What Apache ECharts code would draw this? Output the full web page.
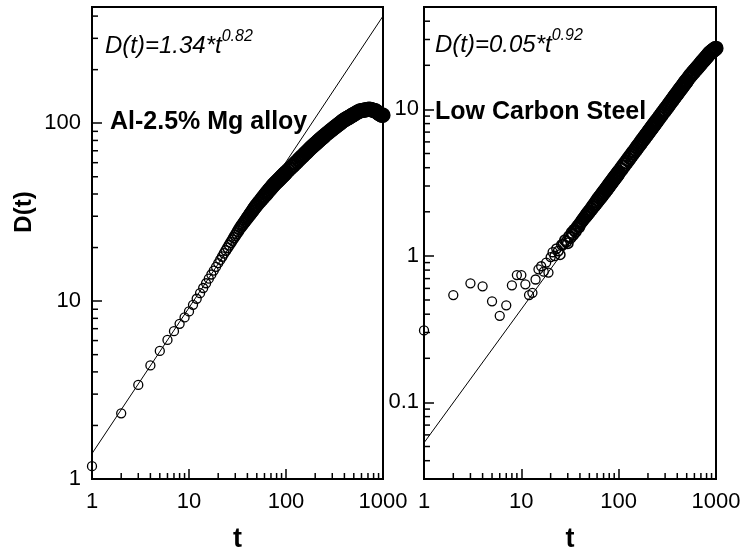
<!DOCTYPE html>
<html><head><meta charset="utf-8">
<script src="https://cdn.jsdelivr.net/npm/echarts@6/dist/echarts.min.js"></script>
<style>html,body{margin:0;padding:0;background:#fff}#c{width:745px;height:558px}</style>
</head><body><div id="c"></div>
<script>
// shared time values (t)
const tValues = [
  1,2,3,4,5,6,7,8,9,10,11,12,13,14,15,16,17,18,19,20,21,22,23,24,25,26,27,28,29,30,
  31,32,33,34,35,36,37,38,39,40,41,42,43,44,45,46,47,48,49,50,
  52,54,56,58,60,62,64,66,68,70,72,74,76,78,80,82,84,86,88,90,92,94,96,98,100,
  105,110,115,120,125,130,135,140,145,150,155,160,165,170,175,180,185,190,195,200,
  205,210,215,220,225,230,235,240,245,250,
  260,270,280,290,300,310,320,330,340,350,360,370,380,390,400,410,420,430,440,450,460,470,480,490,500,
  520,540,560,580,600,620,640,660,680,700,720,740,760,780,800,820,840,860,880,900,920,940,960,980,1000
];
// Al-2.5% Mg alloy D(t)
const alloyD = [
  1.18,2.34,3.38,4.35,5.25,6.05,6.78,7.45,8.10,8.75,
  9.53,10.31,11.08,11.85,12.60,13.36,14.11,14.85,15.59,16.33,
  17.06,17.79,18.55,19.25,19.94,20.64,21.33,22.02,22.70,23.38,
  24.05,24.72,25.39,26.01,26.59,27.15,27.71,28.28,28.83,29.39,
  29.93,30.48,31.02,31.56,32.09,32.63,33.16,33.68,34.21,34.72,
  35.62,36.50,37.37,38.24,39.10,39.94,40.77,41.59,42.41,43.20,
  44.00,44.80,45.46,46.12,46.77,47.41,48.05,48.67,49.29,49.90,
  50.51,51.11,51.71,52.30,52.88,
  54.33,55.64,56.99,58.31,59.60,60.88,62.14,63.37,64.59,65.79,
  66.97,68.12,69.26,70.37,71.61,72.61,73.60,74.56,75.51,76.46,
  77.39,78.31,79.22,80.12,81.01,81.87,82.74,83.60,84.45,85.27,
  86.90,88.33,89.71,91.06,92.42,93.72,95.00,96.28,97.50,98.74,
  99.93,101.1,102.3,103.5,104.3,105.2,106.0,106.8,107.6,108.3,
  109.1,109.9,110.6,111.4,112.1,
  113.5,114.9,116.2,117.2,117.6,118.0,118.4,118.8,119.2,119.5,
  119.9,119.6,119.1,118.6,118.1,117.6,117.2,116.2,114.8,114.0,
  113.0,112.0,111.3,110.8,111.0
];
// Low carbon steel D(t)
const steelD = [
  0.31,0.54,0.65,0.62,0.49,0.39,0.46,0.63,0.74,0.74,
  0.64,0.54,0.56,0.69,0.81,0.85,0.78,0.90,0.77,0.98,
  1.06,1.00,1.12,1.08,1.02,1.19,1.20,1.28,1.25,1.22,
  1.36,1.33,1.44,1.40,1.50,1.47,1.55,1.60,1.58,1.66,
  1.69,1.73,1.77,1.80,1.84,1.87,1.91,1.94,1.98,2.01,
  2.08,2.15,2.22,2.29,2.36,2.43,2.50,2.56,2.63,2.70,
  2.77,2.83,2.90,2.97,3.04,3.11,3.18,3.24,3.31,3.38,
  3.45,3.51,3.58,3.65,3.72,
  3.88,4.05,4.21,4.37,4.54,4.70,4.86,5.02,5.18,5.34,
  5.50,5.66,5.82,5.98,6.14,6.29,6.45,6.61,6.76,6.92,
  7.07,7.23,7.38,7.54,7.69,7.84,8.00,8.15,8.30,8.45,
  8.75,9.06,9.36,9.65,9.95,10.25,10.54,10.84,11.13,11.43,
  11.72,12.02,12.30,12.59,12.88,13.17,13.46,13.74,14.03,14.31,
  14.60,14.89,15.17,15.45,15.74,
  16.30,16.86,17.34,17.82,18.29,18.76,19.23,19.70,20.16,20.62,
  21.07,21.52,21.97,22.42,22.87,23.30,23.74,24.17,24.53,24.81,
  25.08,25.35,25.62,25.88,26.15
];
// fitted power-law lines (end points)
const fitT = [1, 1000];
const alloyFitD = [1.39, 400];
const steelFitD = [0.053, 28.8];
// axis ranges
const xRange = [1, 1000];
const alloyYRange = [1, 450];
const steelYRange = [0.03, 50];
// minor tick values
const xMinor = [2,3,4,5,6,7,8,9,20,30,40,50,60,70,80,90,200,300,400,500,600,700,800,900];
const alloyYMinor = [2,3,4,5,6,7,8,9,20,30,40,50,60,70,80,90,200,300,400];
const steelYMinor = [0.04,0.05,0.06,0.07,0.08,0.09,0.2,0.3,0.4,0.5,0.6,0.7,0.8,0.9,2,3,4,5,6,7,8,9,20,30,40];
// texts
const alloyEq = ['D(t)=1.34*t', '0.82'];
const steelEq = ['D(t)=0.05*t', '0.92'];
const alloyName = 'Al-2.5% Mg alloy';
const steelName = 'Low Carbon Steel';
const yName = 'D(t)';
const xName = 't';

const FONT = '"Liberation Sans", Arial, Helvetica, sans-serif';
const chart = echarts.init(document.getElementById('c'), null, {renderer: 'canvas'});

function powLabel(v) {
  const l = Math.log10(v);
  if (Math.abs(l - Math.round(l)) > 1e-6) return '';
  return String(Number(v.toPrecision(4)));
}
function xAxisDef(gi) {
  return {
    type: 'log', logBase: 10, gridIndex: gi, min: xRange[0], max: xRange[1],
    name: xName, nameLocation: 'middle', nameGap: 47,
    nameTextStyle: {fontSize: 27, fontWeight: 'bold', color: '#000', fontFamily: FONT},
    axisLine: {show: true, onZero: false, lineStyle: {color: '#000', width: 2}},
    axisTick: {show: true, inside: true, length: 10, lineStyle: {color: '#000', width: 1.5}},
    minorTick: {show: false},
    splitLine: {show: false},
    axisLabel: {fontSize: 22, color: '#000', fontFamily: FONT, margin: 12, formatter: powLabel,
      showMinLabel: true, showMaxLabel: true}
  };
}
function yAxisDef(gi, range, margin) {
  return {
    type: 'log', logBase: 10, gridIndex: gi, min: range[0], max: range[1],
    axisLine: {show: true, onZero: false, lineStyle: {color: '#000', width: 2}},
    axisTick: {show: true, inside: true, length: 10, lineStyle: {color: '#000', width: 1.5}},
    splitLine: {show: false},
    axisLabel: {fontSize: 22, color: '#000', fontFamily: FONT, margin: margin, formatter: powLabel}
  };
}
function minorTicks(gi, values, dir, ref) {
  return {
    type: 'custom', xAxisIndex: gi, yAxisIndex: gi, silent: true, clip: false, z: 6,
    data: values.map(v => dir === 'x' ? [v, ref] : [ref, v]),
    renderItem: function (params, api) {
      const cs = params.coordSys;
      const p = api.coord([api.value(0), api.value(1)]);
      let shape;
      if (dir === 'x') {
        const yb = cs.y + cs.height;
        shape = {x1: p[0], y1: yb, x2: p[0], y2: yb - 6};
      } else {
        shape = {x1: cs.x, y1: p[1], x2: cs.x + 6, y2: p[1]};
      }
      return {type: 'line', shape: shape, style: {stroke: '#000', lineWidth: 1.5}};
    }
  };
}
// markers merge into a thick dark band where the reference points crowd together
function crowd(t) {
  return Math.min(1, Math.max(0, (Math.log10(t) - 1.3) / 0.5));
}
function scatter(gi, ys) {
  return {
    type: 'scatter', xAxisIndex: gi, yAxisIndex: gi, z: 3,
    symbol: 'circle',
    itemStyle: {color: 'rgba(255,255,255,0)', borderColor: '#000', borderWidth: 1.3, opacity: 1},
    emphasis: {disabled: true},
    data: tValues.map((t, i) => ({
      value: [t, ys[i]],
      symbolSize: 9 + 4 * crowd(t),
      itemStyle: {borderWidth: 1.3 + 0.9 * crowd(t)}
    }))
  };
}
function fitLine(gi, ys) {
  return {
    type: 'line', xAxisIndex: gi, yAxisIndex: gi, z: 4, showSymbol: false, symbol: 'none',
    lineStyle: {color: '#000', width: 1}, silent: true,
    data: fitT.map((t, i) => [t, ys[i]])
  };
}
function eqText(x, y, parts) {
  return {
    type: 'text', x: x, y: y, silent: true,
    style: {
      text: '{m|' + parts[0] + '}{s|' + parts[1] + '}',
      verticalAlign: 'top', align: 'left',
      rich: {
        m: {fontSize: 24, fontStyle: 'italic', fontFamily: FONT, fill: '#000', color: '#000', lineHeight: 34},
        s: {fontSize: 16, fontStyle: 'italic', fontFamily: FONT, fill: '#000', color: '#000', verticalAlign: 'top', lineHeight: 16}
      }
    }
  };
}
function boldText(x, y, txt) {
  return {
    type: 'text', x: x, y: y, silent: true,
    style: {text: txt, fontSize: 25, fontWeight: 'bold', fontFamily: FONT, fill: '#000',
      verticalAlign: 'middle', align: 'left'}
  };
}

const option = {
  animation: false,
  backgroundColor: '#fff',
  textStyle: {fontFamily: FONT},
  grid: [
    {left: 92, right: 745 - 383, top: 7, bottom: 558 - 482, show: true, borderColor: '#000', borderWidth: 2, containLabel: false},
    {left: 424, right: 745 - 716, top: 7, bottom: 558 - 482, show: true, borderColor: '#000', borderWidth: 2, containLabel: false}
  ],
  xAxis: [xAxisDef(0), xAxisDef(1)],
  yAxis: [yAxisDef(0, alloyYRange, 11), yAxisDef(1, steelYRange, 5)],
  series: [
    scatter(0, alloyD), fitLine(0, alloyFitD),
    scatter(1, steelD), fitLine(1, steelFitD),
    minorTicks(0, xMinor, 'x', alloyYRange[0]), minorTicks(0, alloyYMinor, 'y', xRange[0]),
    minorTicks(1, xMinor, 'x', steelYRange[0]), minorTicks(1, steelYMinor, 'y', xRange[0])
  ],
  graphic: [
    eqText(105, 29, alloyEq),
    eqText(435, 28, steelEq),
    boldText(110, 122, alloyName),
    boldText(435, 112, steelName),
    {type: 'text', x: 24, y: 212, rotation: Math.PI / 2, silent: true,
      style: {text: yName, fontSize: 24, fontWeight: 'bold', fontFamily: FONT, fill: '#000',
        align: 'center', verticalAlign: 'middle'}}
  ]
};
chart.setOption(option);
</script>
</body></html>
